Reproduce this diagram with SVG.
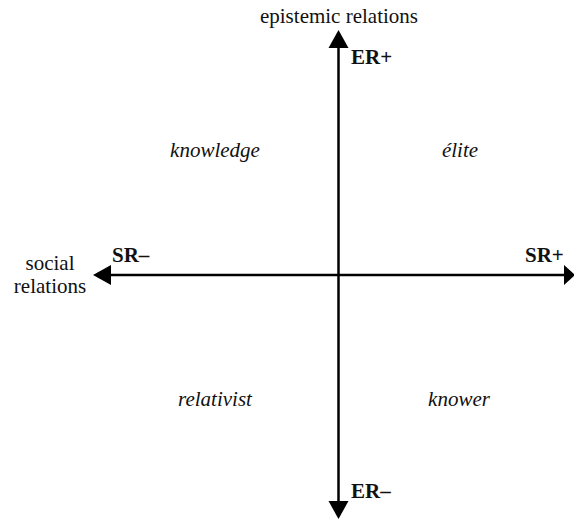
<svg xmlns="http://www.w3.org/2000/svg" width="574" height="520" viewBox="0 0 574 520" font-family="'Liberation Serif', 'DejaVu Serif', serif">
<style>
text{font-family:'Liberation Serif','DejaVu Serif',serif;font-size:21px;fill:#111}
.b{font-weight:bold}
.i{font-style:italic}
.axis{stroke:#000;stroke-width:2.5;fill:none}
.head{fill:#000}
</style>
<rect width="574" height="520" fill="#fff"/>
<g id="connectors">
<line class="axis" x1="338.5" y1="44" x2="338.5" y2="505"/>
<polygon class="head" points="338.5,30 328.5,48 348.5,48"/>
<polygon class="head" points="338.5,519 328.5,501 348.5,501"/>
<line class="axis" x1="107" y1="275" x2="568" y2="275"/>
<polygon class="head" points="93,275 111,265 111,285"/>
<polygon class="head" points="575,275 564,265 564,285"/>
</g>
<g id="axis-er-label"><text x="339" y="23" text-anchor="middle">epistemic relations</text></g>
<g id="axis-sr-label"><text x="50" y="270" text-anchor="middle">social</text><text x="50" y="293" text-anchor="middle">relations</text></g>
<g id="er-plus"><text class="b" x="351" y="64">ER+</text></g>
<g id="er-minus"><text class="b" x="351" y="498">ER–</text></g>
<g id="sr-minus"><text class="b" x="112" y="262">SR–</text></g>
<g id="sr-plus"><text class="b" x="525" y="262">SR+</text></g>
<g id="knowledge"><text class="i" x="215" y="157" text-anchor="middle">knowledge</text></g>
<g id="elite"><text class="i" x="460" y="157" text-anchor="middle">élite</text></g>
<g id="relativist"><text class="i" x="215" y="406" text-anchor="middle">relativist</text></g>
<g id="knower"><text class="i" x="459" y="406" text-anchor="middle">knower</text></g>
</svg>
